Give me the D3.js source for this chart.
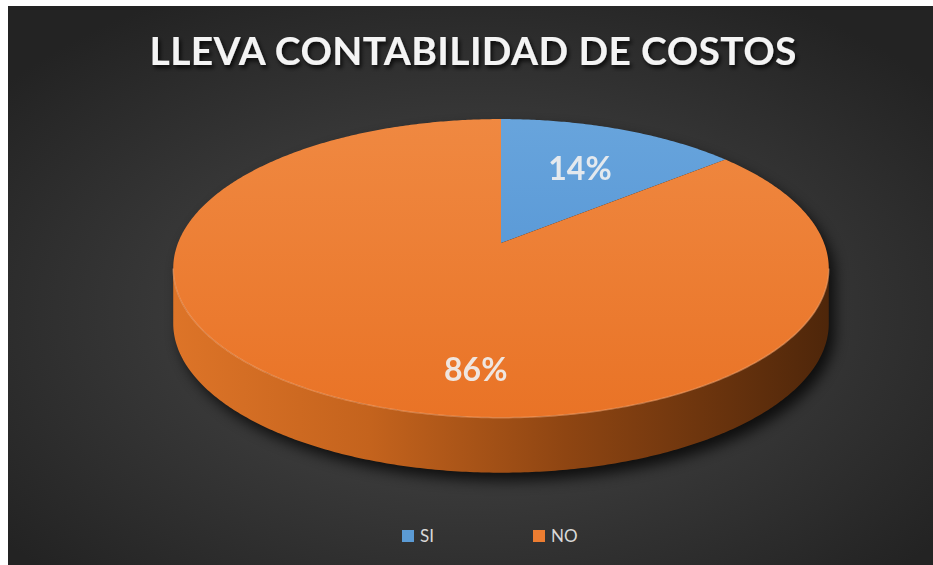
<!DOCTYPE html>
<html>
<head>
<meta charset="utf-8">
<script src="https://cdn.jsdelivr.net/npm/d3@7"></script>
<style>
    body { margin: 0; background: #fff; }
    svg { display: block; }
</style>
</head>
<body>
<svg id="chart" width="933" height="565"></svg>
<script>
/* Data */
const categories = ["SI", "NO"];
const values = [14, 86];
const chartTitle = "LLEVA CONTABILIDAD DE COSTOS";

const width = 933, height = 565;
const svg = d3.select("#chart");
const defs = svg.append("defs");

// colors per category
const color = d3.scaleOrdinal().domain(categories).range(["#5B9BD5", "#ED7D31"]);

// Background panel (white strip left/top like the source)
const bg = defs.append("radialGradient").attr("id", "bg")
    .attr("cx", "50%").attr("cy", "55%").attr("r", "65%");
bg.append("stop").attr("offset", "0%").attr("stop-color", "#4d4d4d");
bg.append("stop").attr("offset", "100%").attr("stop-color", "#232323");
svg.append("rect")
    .attr("x", 8).attr("y", 6)
    .attr("width", width - 8).attr("height", height - 6)
    .attr("fill", "url(#bg)");

/* 3D pie projection (perspective circle -> ellipse) */
const cx = 501, cy = 243, rx = 323, ry = 145, tilt = 0.17, depth = 55;
const proj = (a, r = 1, dy = 0) => {
    const u = r * Math.sin(a), v = -r * Math.cos(a);
    const d = 1 - tilt * v;
    return [cx + rx * u / d, cy + ry * v / d + dy];
};
const arcPts = (a0, a1, dy = 0) => {
    const n = Math.max(2, Math.ceil(Math.abs(a1 - a0) / 0.01));
    return d3.range(n + 1).map(i => proj(a0 + (a1 - a0) * i / n, 1, dy));
};
const line = d3.line();

const aL = Math.acos(-tilt);          // silhouette, right side
const aR = 2 * Math.PI - aL;          // silhouette, left side

const slices = d3.pie().sort(null).value(d => d)(values);

// filters
const blur = defs.append("filter").attr("id", "shadow")
    .attr("x", "-20%").attr("y", "-20%").attr("width", "140%").attr("height", "140%");
blur.append("feGaussianBlur").attr("stdDeviation", 7);

const tshadow = defs.append("filter").attr("id", "tshadow");
tshadow.append("feDropShadow").attr("dx", 2).attr("dy", 3)
    .attr("stdDeviation", 2).attr("flood-color", "#000").attr("flood-opacity", 0.8);

// gradients
const sideGrad = defs.append("linearGradient").attr("id", "side")
    .attr("gradientUnits", "userSpaceOnUse")
    .attr("x1", cx - rx - 5).attr("x2", cx + rx + 5).attr("y1", 0).attr("y2", 0);
[["0%", "#dd7428"], ["30%", "#c4631d"], ["60%", "#8e4512"], ["100%", "#4e260a"]]
    .forEach(s => sideGrad.append("stop").attr("offset", s[0]).attr("stop-color", s[1]));

const topStops = {
    "SI": ["#6aa6dd", "#4a8dd1"],
    "NO": ["#f08a43", "#e97326"]
};
categories.forEach(c => {
    const g = defs.append("linearGradient").attr("id", "top-" + c)
        .attr("gradientUnits", "userSpaceOnUse")
        .attr("x1", 0).attr("x2", 0).attr("y1", cy - ry).attr("y2", cy + 175);
    g.append("stop").attr("offset", "0%").attr("stop-color", topStops[c][0]);
    g.append("stop").attr("offset", "100%").attr("stop-color", topStops[c][1]);
});

const pieG = svg.append("g");

// Shadow beneath the pie
const outline = arcPts(aR - 2 * Math.PI, aL).concat(arcPts(aL, aR, depth));
pieG.append("path")
    .attr("d", line(outline) + "Z")
    .attr("transform", "translate(6,8)")
    .attr("fill", "#000")
    .attr("opacity", 0.75)
    .attr("filter", "url(#shadow)");

// Side walls (front, visible part)
slices.forEach((s, i) => {
    const s0 = Math.max(s.startAngle, aL), s1 = Math.min(s.endAngle, aR);
    if (s1 <= s0) return;
    const pts = arcPts(s0, s1).concat(arcPts(s1, s0, depth));
    pieG.append("path")
        .attr("d", line(pts) + "Z")
        .attr("fill", categories[i] === "NO" ? "url(#side)" : d3.color(color(categories[i])).darker(1));
});

// Top faces
slices.forEach((s, i) => {
    const pts = [proj(0, 0)].concat(arcPts(s.startAngle, s.endAngle));
    pieG.append("path")
        .attr("d", line(pts) + "Z")
        .attr("fill", "url(#top-" + categories[i] + ")");
});

// Light bevel on the front edge of the top face
pieG.append("path")
    .attr("d", line(arcPts(aL, aR)))
    .attr("fill", "none")
    .attr("stroke", "#f7a66f")
    .attr("stroke-width", 1.5)
    .attr("opacity", 0.55);

// Data labels
const labelAt = [{ r: 0.63, da: 0 }, { r: 0.76, da: -0.35 }];
slices.forEach((s, i) => {
    const mid = (s.startAngle + s.endAngle) / 2 + labelAt[i].da;
    const p = proj(mid, labelAt[i].r);
    svg.append("text")
        .attr("x", p[0]).attr("y", p[1])
        .attr("text-anchor", "middle")
        .attr("dominant-baseline", "central")
        .style("font-family", "Lato, 'Open Sans', sans-serif")
        .style("font-weight", 700)
        .style("font-size", "32px")
        .attr("fill", "#f0f0f0")
        .attr("opacity", 0.92)
        .text(Math.round(s.value / d3.sum(values) * 100) + "%");
});

// Title
svg.append("text")
    .attr("x", 473).attr("y", 65)
    .attr("text-anchor", "middle")
    .attr("textLength", 647)
    .attr("lengthAdjust", "spacing")
    .style("font-family", "Lato, 'Open Sans', sans-serif")
    .style("font-weight", 700)
    .style("font-size", "39px")
    .attr("fill", "#f4f4f4")
    .attr("filter", "url(#tshadow)")
    .text(chartTitle);

// Legend
const legendX = d3.scalePoint().domain(categories).range([402, 533]);
const legend = svg.append("g").selectAll("g")
    .data(categories)
    .enter()
    .append("g")
    .attr("transform", d => `translate(${legendX(d)}, 530)`);
legend.append("rect")
    .attr("width", 12).attr("height", 12)
    .attr("fill", d => color(d));
legend.append("text")
    .attr("x", 18).attr("y", 12)
    .style("font-family", "Lato, 'Open Sans', sans-serif")
    .style("font-size", "17px")
    .attr("fill", "#d9d9d9")
    .text(d => d);
</script>
</body>
</html>
